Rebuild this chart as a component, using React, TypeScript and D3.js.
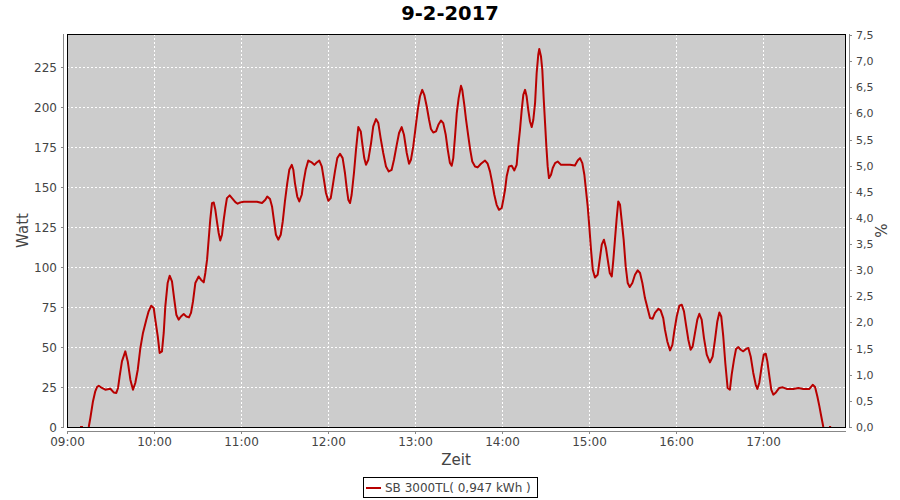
import React from "react";
import * as d3 from "d3";

const chartTitle = "9-2-2017";
const seriesName = "SB 3000TL( 0,947 kWh )";
const chartDay = [2017, 1, 9];

// minutes after 09:00
const minutes = [
  9.0, 11.0, 13.0, 15.0, 16.1, 17.9, 19.5, 20.7, 21.9, 24.1, 26.4, 29.9, 32.2, 34.0, 35.2, 36.3, 37.9, 40.2, 41.9, 43.7,
  45.5, 47.1, 48.8, 50.6, 52.4, 54.7, 56.3, 58.1, 59.8, 60.9, 62.6, 63.9, 65.5, 66.7, 67.8, 69.4, 70.8, 72.4, 74.0, 75.4,
  77.0, 78.6, 80.5, 82.3, 84.1, 85.5, 86.9, 88.5, 90.8, 92.4, 94.3, 95.4, 96.6, 97.7, 98.8, 100.0, 101.2, 102.3, 103.4, 104.6,
  105.7, 106.9, 108.1, 109.2, 110.3, 112.2, 113.8, 116.1, 117.7, 119.5, 121.9, 131.0, 134.5, 136.8, 138.1, 140.0, 141.4, 142.8, 144.1, 145.7,
  147.4, 148.8, 150.3, 151.9, 153.3, 155.0, 156.1, 157.2, 158.8, 160.2, 161.9, 163.0, 164.6, 166.4, 168.8, 170.6, 172.2, 174.0, 175.7, 177.2,
  178.6, 180.2, 181.9, 183.2, 184.8, 186.4, 188.3, 190.1, 191.7, 192.9, 194.0, 195.2, 196.3, 197.9, 199.3, 200.9, 202.6, 203.9, 205.0, 206.2,
  207.8, 209.7, 211.2, 213.1, 214.7, 216.3, 218.1, 220.0, 221.9, 223.9, 225.5, 227.4, 229.0, 230.8, 232.4, 234.3, 235.9, 237.2, 238.8, 240.5,
  241.9, 243.4, 245.0, 246.4, 248.1, 249.7, 251.0, 252.6, 254.5, 256.1, 257.9, 259.5, 261.2, 262.6, 264.1, 265.3, 266.4, 267.6, 268.8, 270.1,
  271.7, 272.6, 274.0, 275.2, 276.8, 278.1, 279.5, 281.4, 283.2, 285.5, 288.3, 290.1, 291.7, 293.3, 294.7, 296.3, 297.9, 299.8, 300.9, 302.1,
  303.2, 304.8, 306.7, 308.5, 310.1, 311.2, 312.4, 313.6, 314.7, 315.9, 317.0, 318.1, 319.3, 320.5, 321.6, 322.8, 323.9, 325.0, 325.7, 326.9,
  327.8, 328.8, 329.7, 330.6, 331.5, 332.4, 333.8, 335.0, 336.6, 338.4, 340.7, 346.9, 350.3, 352.2, 353.8, 355.4, 356.8, 357.9, 359.1, 360.2,
  361.4, 362.6, 364.1, 366.0, 367.4, 368.8, 370.3, 371.7, 372.9, 374.3, 375.7, 376.8, 377.9, 379.1, 380.2, 381.4, 382.6, 383.9, 385.3, 386.7,
  388.1, 389.9, 391.7, 393.6, 395.2, 396.8, 398.6, 402.1, 403.9, 405.5, 407.8, 409.4, 411.2, 412.4, 414.0, 415.9, 417.5, 418.8, 420.5, 422.3,
  424.0, 425.5, 426.9, 428.5, 430.1, 431.5, 433.1, 434.7, 436.1, 437.7, 439.3, 441.2, 443.4, 445.3, 446.9, 448.5, 449.9, 451.2, 452.6, 454.0,
  455.6, 457.2, 458.4, 460.0, 461.4, 463.0, 464.6, 466.4, 468.3, 469.9, 471.5, 473.3, 475.0, 476.1, 477.4, 479.1, 480.5, 481.9, 483.0, 484.4,
  485.7, 487.1, 488.9, 491.2, 493.6, 496.3, 500.9, 504.4, 507.8, 512.0, 514.3, 515.9, 517.5, 518.9, 520.2, 521.6, 523.5, 525.5, 527.0,
];

const watts: (number | null)[] = [
  0, 0, null, 0, 5.6, 16.0, 22.3, 25.0, 25.8, 24.4, 23.3, 23.9, 21.6, 21.3, 24.4, 31.6, 41.0, 47.3, 41.0, 29.6,
  23.3, 27.5, 35.8, 49.4, 58.8, 67.1, 72.3, 75.8, 74.4, 67.1, 56.6, 46.3, 47.3, 58.8, 75.4, 90.0, 94.6, 91.0, 79.6, 70.2,
  67.1, 69.1, 70.6, 69.1, 68.5, 71.3, 78.5, 90.0, 94.1, 92.1, 90.4, 96.3, 104.6, 117.1, 129.6, 140.0, 140.4, 135.8, 128.5, 121.3,
  116.6, 120.2, 129.6, 136.9, 143.1, 144.8, 143.1, 140.6, 139.6, 140.4, 140.8, 140.8, 140.0, 142.1, 144.1, 142.5, 137.9, 128.5, 120.2, 117.1,
  120.2, 128.5, 141.0, 152.5, 160.8, 163.9, 160.8, 152.5, 144.1, 141.0, 145.2, 152.5, 160.8, 166.6, 165.4, 163.9, 165.4, 166.6, 162.9, 154.6,
  146.3, 141.4, 143.1, 150.4, 159.8, 168.1, 170.8, 168.1, 158.8, 149.4, 142.1, 140.0, 145.2, 158.8, 173.3, 187.5, 184.8, 175.4, 168.1, 163.9,
  167.1, 177.5, 187.9, 192.5, 190.0, 180.6, 171.3, 162.9, 159.8, 160.8, 167.1, 176.4, 183.8, 187.5, 182.7, 171.3, 164.6, 167.1, 175.4, 187.9,
  198.3, 206.6, 210.8, 207.7, 200.4, 192.1, 186.3, 184.1, 184.8, 188.9, 191.6, 190.0, 182.7, 173.3, 165.0, 163.3, 168.1, 181.6, 196.3, 205.6,
  213.3, 210.8, 201.4, 192.1, 181.6, 173.3, 166.0, 162.9, 162.3, 164.6, 166.6, 164.6, 159.8, 152.5, 145.2, 138.9, 135.8, 136.9, 142.1, 148.3,
  156.6, 162.9, 163.3, 160.4, 163.9, 175.4, 185.8, 198.3, 207.7, 210.8, 206.6, 198.3, 191.0, 187.5, 192.1, 202.5, 221.3, 232.7, 236.3, 231.6,
  223.3, 204.6, 190.0, 175.4, 162.9, 155.6, 157.7, 161.9, 165.0, 166.0, 163.9, 163.9, 163.5, 166.6, 168.1, 165.0, 157.7, 148.3, 137.9, 125.4,
  110.8, 98.3, 93.5, 95.2, 104.6, 114.0, 117.1, 111.9, 104.6, 96.3, 94.1, 104.6, 117.1, 130.6, 141.0, 138.9, 128.5, 117.1, 100.4, 90.0,
  87.5, 90.0, 95.2, 97.9, 96.3, 90.0, 80.6, 68.1, 67.7, 71.3, 73.9, 72.9, 68.1, 60.8, 53.5, 47.9, 51.4, 59.8, 69.1, 75.8,
  76.4, 72.3, 63.9, 54.6, 48.3, 50.4, 58.8, 67.1, 70.8, 67.1, 55.6, 45.2, 40.4, 44.1, 54.6, 66.0, 71.6, 69.1, 56.6, 40.0,
  24.4, 23.3, 32.7, 42.1, 48.8, 50.0, 48.3, 47.3, 48.8, 49.4, 44.1, 33.8, 26.4, 23.8, 27.5, 37.9, 45.2, 45.8, 41.0, 31.6,
  23.3, 20.2, 21.6, 24.4, 24.8, 23.8, 23.8, 24.4, 23.8, 23.8, 26.4, 25.0, 19.1, 12.9, 6.6, 0, null, 0, 0,
];

const wattTicks = [0, 25, 50, 75, 100, 125, 150, 175, 200, 225];
const percentTicks = [0, 0.5, 1, 1.5, 2, 2.5, 3, 3.5, 4, 4.5, 5, 5.5, 6, 6.5, 7, 7.5];
const hourTicks = [9, 10, 11, 12, 13, 14, 15, 16, 17];
const xAxisLabel = "Zeit";
const leftAxisLabel = "Watt";
const rightAxisLabel = "%";

const FONT = "'DejaVu Sans', sans-serif";
const LINE_COLOR = "#b80000";
const TEXT = "#444444";

export default function App() {
  const left = 67, right = 845, top = 34, bottom = 427;
  const base = new Date(chartDay[0], chartDay[1], chartDay[2], 9, 0, 0);
  const at = (m: number) => new Date(base.getTime() + m * 60000);
  const x = d3.scaleTime().domain([at(0), at(536.55)]).range([left, right]);
  const y = d3.scaleLinear().domain([0, 245.7]).range([bottom, top]);
  const y2 = d3.scaleLinear().domain([0, 7.52]).range([bottom, top]);

  const pts = minutes.map((m, i) => ({ t: at(m), v: watts[i] }));
  const line = d3
    .line<{ t: Date; v: number | null }>()
    .defined((d) => d.v !== null)
    .x((d) => x(d.t))
    .y((d) => y(d.v as number));

  const fmtHour = (h: number) => (h < 10 ? "0" : "") + h + ":00";
  const fmtPct = (v: number) => v.toFixed(1).replace(".", ",");
  const hx = (h: number) => Math.round(x(new Date(chartDay[0], chartDay[1], chartDay[2], h, 0, 0))) + 0.5;
  const ry = (v: number) => Math.round(y(v)) + 0.5;
  const ry2 = (v: number) => Math.round(y2(v)) + 0.5;

  const fmtWatt = d3.format("d");

  return (
    <svg width={900} height={500} style={{ display: "block", position: "absolute", left: 0, top: 0, background: "#fff" }}>
      <rect x={0} y={0} width={900} height={500} fill="#ffffff" />
      <text x={450} y={20} textAnchor="middle" fontFamily={FONT} fontWeight="bold" fontSize={19.5} fill="#000">
        {chartTitle}
      </text>

      {/* plot background */}
      <rect x={left} y={top} width={right - left} height={bottom - top} fill="#cccccc" />

      {/* grid */}
      <g stroke="#ffffff" strokeWidth={1} strokeDasharray="2,2">
        {wattTicks.filter((v) => v > 0).map((v) => (
          <line key={"gy" + v} x1={left} x2={right} y1={ry(v)} y2={ry(v)} />
        ))}
        {hourTicks.filter((h) => h > 9).map((h) => (
          <line key={"gx" + h} x1={hx(h)} x2={hx(h)} y1={top} y2={bottom} />
        ))}
      </g>

      {/* series */}
      <path d={line(pts) || ""} fill="none" stroke={LINE_COLOR} strokeWidth={2} strokeLinejoin="round" />

      {/* plot border */}
      <rect x={left + 0.5} y={top + 0.5} width={right - left} height={bottom - top} fill="none" stroke="#000" strokeWidth={1} />

      {/* left axis */}
      <g fontFamily={FONT} fontSize={12} fill={TEXT}>
        <line x1={63.5} x2={63.5} y1={top} y2={bottom + 1} stroke="#888" />
        {wattTicks.map((v) => (
          <g key={"ly" + v}>
            <line x1={61} x2={63.5} y1={ry(v)} y2={ry(v)} stroke="#888" />
            <text x={57} y={ry(v)} dy="0.36em" textAnchor="end">
              {fmtWatt(v)}
            </text>
          </g>
        ))}
        <text
          transform={`translate(28,${(top + bottom) / 2}) rotate(-90)`}
          textAnchor="middle"
          fontSize={15}
        >
          {leftAxisLabel}
        </text>
      </g>

      {/* right axis */}
      <g fontFamily={FONT} fontSize={12} fill={TEXT}>
        <line x1={849.5} x2={849.5} y1={top} y2={bottom + 1} stroke="#888" />
        {percentTicks.map((v) => (
          <g key={"ry" + v}>
            <line x1={849.5} x2={852} y1={ry2(v)} y2={ry2(v)} stroke="#888" />
            <text x={856} y={ry2(v)} dy="0.36em" textAnchor="start" fontSize={11}>
              {fmtPct(v)}
            </text>
          </g>
        ))}
        <text
          transform={`translate(887,${(top + bottom) / 2}) rotate(-90)`}
          textAnchor="middle"
          fontSize={15}
        >
          {rightAxisLabel}
        </text>
      </g>

      {/* bottom axis */}
      <g fontFamily={FONT} fontSize={12} fill={TEXT}>
        <line x1={left} x2={right + 1} y1={431.5} y2={431.5} stroke="#888" />
        {hourTicks.map((h) => (
          <g key={"bx" + h}>
            <line x1={hx(h)} x2={hx(h)} y1={431.5} y2={434} stroke="#888" />
            <text x={hx(h)} y={446} textAnchor="middle">
              {fmtHour(h)}
            </text>
          </g>
        ))}
        <text x={(left + right) / 2} y={465} textAnchor="middle" fontSize={15}>
          {xAxisLabel}
        </text>
      </g>

      {/* legend */}
      <g fontFamily={FONT} fontSize={12}>
        <rect x={363.5} y={477.5} width={174} height={20} fill="#fff" stroke="#000" />
        <line x1={366} x2={381} y1={488} y2={488} stroke={LINE_COLOR} strokeWidth={2} />
        <text x={385} y={492} fill={TEXT}>
          {seriesName}
        </text>
      </g>
    </svg>
  );
}
